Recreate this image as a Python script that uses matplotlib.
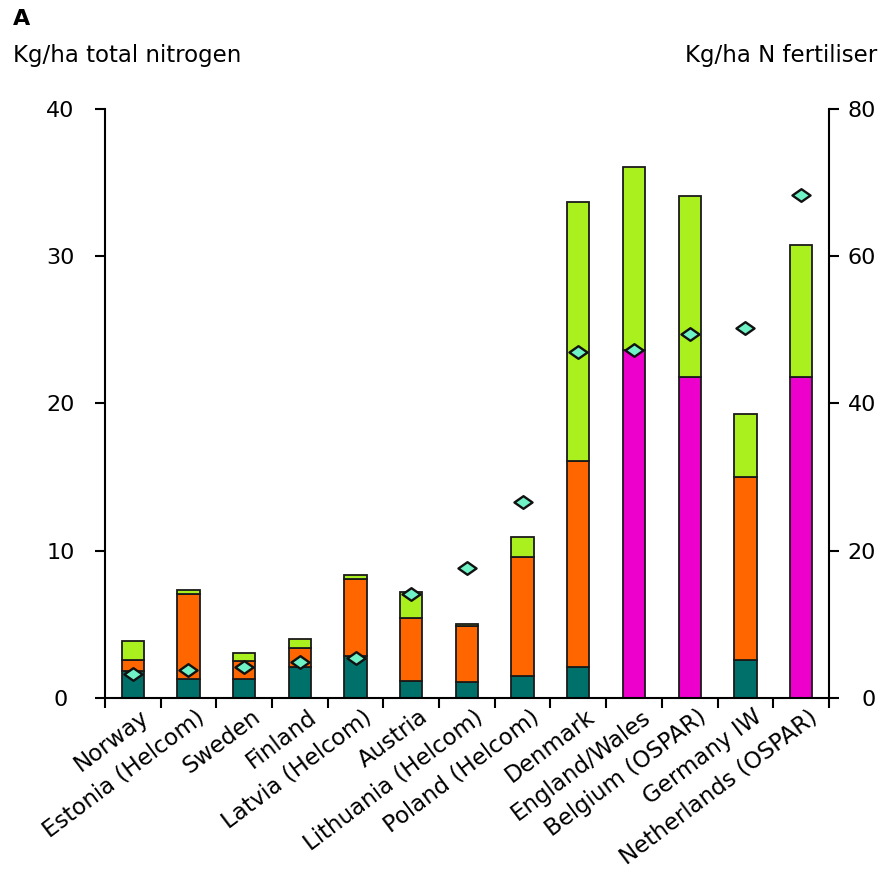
import numpy as np
import matplotlib
matplotlib.use("Agg")
import matplotlib.pyplot as plt
import matplotlib.transforms as mtransforms
from matplotlib.path import Path

countries = ["Norway", "Estonia (Helcom)", "Sweden", "Finland", "Latvia (Helcom)",
             "Austria", "Lithuania (Helcom)", "Poland (Helcom)", "Denmark",
             "England/Wales", "Belgium (OSPAR)", "Germany IW", "Netherlands (OSPAR)"]

# stacked segments, kg/ha total nitrogen
teal = [1.8, 1.3, 1.3, 2.1, 2.85, 1.15, 1.1, 1.5, 2.1, 0, 0, 2.6, 0]
orange = [0.8, 5.75, 1.2, 1.3, 5.25, 4.25, 3.8, 8.1, 14.0, 0, 0, 12.4, 0]
magenta = [0, 0, 0, 0, 0, 0, 0, 0, 0, 23.6, 21.8, 0, 21.8]
green = [1.25, 0.25, 0.55, 0.6, 0.25, 1.8, 0.1, 1.3, 17.6, 12.5, 12.3, 4.3, 9.0]

# kg/ha N fertiliser (right axis)
fertiliser = [3.2, 3.8, 4.2, 4.9, 5.4, 14.1, 17.7, 26.6, 47.0, 47.2, 49.5, 50.2, 68.3]

plt.rcParams["font.family"] = "DejaVu Sans"

fig = plt.figure(figsize=(8.81, 8.8), dpi=100)
ax = fig.add_axes([0.119, 0.207, 0.822, 0.669])

x = np.arange(len(countries))
w = 0.4
bottom = np.zeros(len(countries))
for vals, col in [(teal, "#00706a"), (orange, "#ff6600"),
                  (magenta, "#ee00cc"), (green, "#aaf01e")]:
    vals = np.array(vals)
    mask = vals > 0
    ax.bar(x[mask], vals[mask], w, bottom=bottom[mask], color=col,
           edgecolor="#1a1a1a", linewidth=1.3, zorder=2)
    bottom += vals

ax.set_xlim(-0.5, len(countries) - 0.5)
ax.set_ylim(0, 40)
ax.set_yticks([0, 10, 20, 30, 40])
ax.set_xticks(x)
ax.set_xticklabels(countries, rotation=37, ha="right", va="center",
                   rotation_mode="anchor")
ax.set_xticks(np.arange(-0.5, len(countries)), minor=True)
ax.tick_params(axis="x", which="major", length=0, pad=12, labelsize=16.5)
ax.tick_params(axis="x", which="minor", length=7, width=1.5, direction="out")
ax.tick_params(axis="y", length=7, width=1.5, labelsize=16, pad=25)
for lab in ax.get_yticklabels():
    lab.set_horizontalalignment("center")
# nudge the rotated country names a bit to the right
shift = mtransforms.ScaledTranslation(14 / 100, 0, fig.dpi_scale_trans)
for lab in ax.get_xticklabels():
    lab.set_transform(lab.get_transform() + shift)
ax.spines["top"].set_visible(False)
ax.spines["right"].set_visible(False)
for s in ["left", "bottom"]:
    ax.spines[s].set_linewidth(1.5)

ax2 = ax.twinx()
ax2.set_ylim(0, 80)
ax2.set_yticks([0, 20, 40, 60, 80])
ax2.tick_params(axis="y", length=7, width=1.5, labelsize=16, pad=27)
for lab in ax2.get_yticklabels():
    lab.set_horizontalalignment("right")
ax2.spines["top"].set_visible(False)
ax2.spines["left"].set_visible(False)
ax2.spines["bottom"].set_visible(False)
ax2.spines["right"].set_linewidth(1.5)

diamond = Path([(-1, 0), (0, 0.7), (1, 0), (0, -0.7), (-1, 0)],
               [Path.MOVETO, Path.LINETO, Path.LINETO, Path.LINETO, Path.CLOSEPOLY])
ax2.plot(x, fertiliser, linestyle="none", marker=diamond, markersize=13,
         markerfacecolor="#6ff2c6", markeredgecolor="#111111",
         markeredgewidth=1.7, zorder=3)

fig.text(0.015, 0.978, "A", fontsize=16, fontweight="bold", va="center", ha="left")
fig.text(0.015, 0.937, "Kg/ha total nitrogen", fontsize=16.5, va="center", ha="left")
fig.text(0.996, 0.937, "Kg/ha N fertiliser", fontsize=16.5, va="center", ha="right")

fig.savefig("out.png", dpi=100)
